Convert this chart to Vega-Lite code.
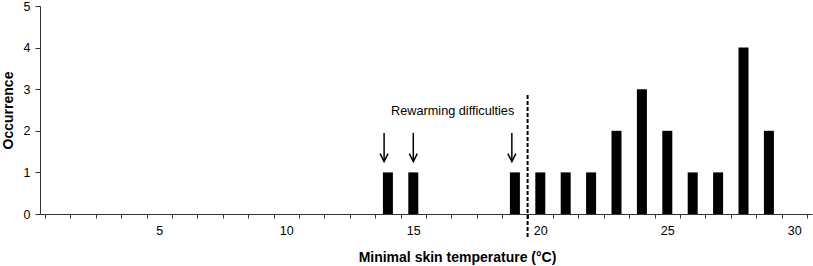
{
  "$schema": "https://vega.github.io/schema/vega-lite/v6.json",
  "width": 772,
  "height": 208,
  "autosize": "none",
  "padding": {"left": 40, "top": 6, "right": 1, "bottom": 52},
  "background": "white",
  "config": {
    "view": {"stroke": null},
    "font": "Liberation Sans",
    "axis": {
      "domainColor": "#333",
      "tickColor": "#333",
      "labelColor": "#000",
      "titleColor": "#000",
      "labelFont": "Liberation Sans",
      "titleFont": "Liberation Sans",
      "labelFontSize": 12.5,
      "titleFontSize": 14,
      "titleFontWeight": "bold",
      "grid": false
    }
  },
  "datasets": {
    "counts": [
      {"temp": 14, "count": 1},
      {"temp": 15, "count": 1},
      {"temp": 19, "count": 1},
      {"temp": 20, "count": 1},
      {"temp": 21, "count": 1},
      {"temp": 22, "count": 1},
      {"temp": 23, "count": 2},
      {"temp": 24, "count": 3},
      {"temp": 25, "count": 2},
      {"temp": 26, "count": 1},
      {"temp": 27, "count": 1},
      {"temp": 28, "count": 4},
      {"temp": 29, "count": 2}
    ],
    "arrows": [
      {"temp": 13.85},
      {"temp": 15.0},
      {"temp": 18.88}
    ],
    "one": [{"label": "Rewarming difficulties"}]
  },
  "resolve": {"axis": {"x": "independent"}},
  "layer": [
    {
      "data": {"name": "counts"},
      "mark": {"type": "bar", "width": 10, "color": "#000"},
      "encoding": {
        "x": {
          "field": "temp",
          "type": "quantitative",
          "scale": {"domain": [0.5, 30.5], "nice": false, "zero": false},
          "axis": {
            "orient": "bottom",
            "title": null,
            "values": [0.5,1.5,2.5,3.5,4.5,5.5,6.5,7.5,8.5,9.5,10.5,11.5,12.5,13.5,14.5,15.5,16.5,17.5,18.5,19.5,20.5,21.5,22.5,23.5,24.5,25.5,26.5,27.5,28.5,29.5,30.5],
            "labels": false,
            "tickSize": 4
          }
        },
        "y": {
          "field": "count",
          "type": "quantitative",
          "scale": {"domain": [0, 5], "nice": false},
          "axis": {
            "title": "Occurrence",
            "values": [0, 1, 2, 3, 4, 5],
            "tickSize": 5,
            "labelPadding": 5,
            "titlePadding": 8
          }
        }
      }
    },
    {
      "data": {"name": "one"},
      "mark": {"type": "rule", "strokeDash": [4, 2], "strokeWidth": 2, "color": "#000", "clip": false},
      "encoding": {
        "x": {
          "datum": 19.5,
          "type": "quantitative",
          "axis": {
            "orient": "bottom",
            "title": "Minimal skin temperature (°C)",
            "titleX": 417,
            "values": [5, 10, 15, 20, 25, 30],
            "ticks": false,
            "domain": false,
            "labelPadding": 10,
            "labelFlush": false,
            "titlePadding": 14
          }
        },
        "y": {"datum": 2.86, "type": "quantitative"},
        "y2": {"datum": -0.58}
      }
    },
    {
      "data": {"name": "arrows"},
      "mark": {"type": "rule", "strokeWidth": 1.5, "color": "#000"},
      "encoding": {
        "x": {"field": "temp", "type": "quantitative", "axis": null},
        "y": {"datum": 1.95, "type": "quantitative"},
        "y2": {"datum": 1.28}
      }
    },
    {
      "data": {"name": "arrows"},
      "mark": {"type": "point", "shape": "M-0.5,-1L0,0L0.5,-1", "size": 256, "filled": false, "strokeWidth": 1.5, "color": "#000", "opacity": 1},
      "encoding": {
        "x": {"field": "temp", "type": "quantitative", "axis": null},
        "y": {"datum": 1.26, "type": "quantitative"}
      }
    },
    {
      "data": {"name": "one"},
      "mark": {"type": "text", "fontSize": 12.7, "font": "Liberation Sans", "color": "#000", "align": "center", "baseline": "middle"},
      "encoding": {
        "text": {"field": "label"},
        "x": {"datum": 16.55, "type": "quantitative", "axis": null},
        "y": {"datum": 2.48, "type": "quantitative"}
      }
    }
  ]
}
